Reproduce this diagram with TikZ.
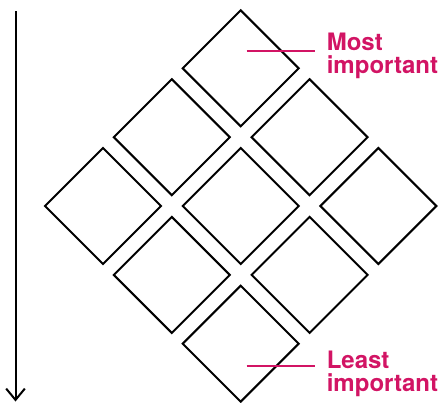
\documentclass[tikz,border=0pt]{standalone}
\usepackage{fontspec}
\setmainfont{TeX Gyre Heros}
\usetikzlibrary{shapes.geometric,arrows.meta}
\definecolor{imp}{RGB}{210,20,100}
\begin{document}
\begin{tikzpicture}[x=0.75pt,y=-0.75pt,
  tile/.style={diamond,draw=black,line width=1.5pt,inner sep=0pt,outer sep=0pt,
    minimum width=87pt,minimum height=87pt,aspect=1},
  lbl/.style={font=\bfseries\fontsize{18pt}{17.25pt}\selectfont,text=imp,
    align=left,inner sep=0pt,anchor=base west},
  pointer/.style={draw=imp,line width=0.8pt}]
\useasboundingbox (0,0) rectangle (440,403);
% tiles
\node[tile] (t1) at (240.7,68.3) {};
\node[tile] (t2) at (171.8,137.2) {};
\node[tile] (t3) at (309.6,137.2) {};
\node[tile] (t4) at (103.0,206.0) {};
\node[tile] (t5) at (240.7,206.0) {};
\node[tile] (t6) at (378.4,206.0) {};
\node[tile] (t7) at (171.8,274.9) {};
\node[tile] (t8) at (309.6,274.9) {};
\node[tile] (t9) at (240.7,343.7) {};
% arrow
\coordinate (atop) at (15.5,11.5);
\coordinate (abot) at (15.5,401.5);
\draw[line width=1.5pt,-{Straight Barb[length=8.5pt,width=14pt,line width=1.5pt]}] (atop) -- (abot);
% labels
\node[lbl] (most) at (326.5,74) {Most\\important};
\node[lbl] (least) at (326.5,391.5) {Least\\important};
\coordinate (m1) at (246.7,51);
\coordinate (m2) at (315,51);
\coordinate (l1) at (246.7,366);
\coordinate (l2) at (315,366);
\draw[pointer] (m1) -- (m2);
\draw[pointer] (l1) -- (l2);
\end{tikzpicture}
\end{document}
